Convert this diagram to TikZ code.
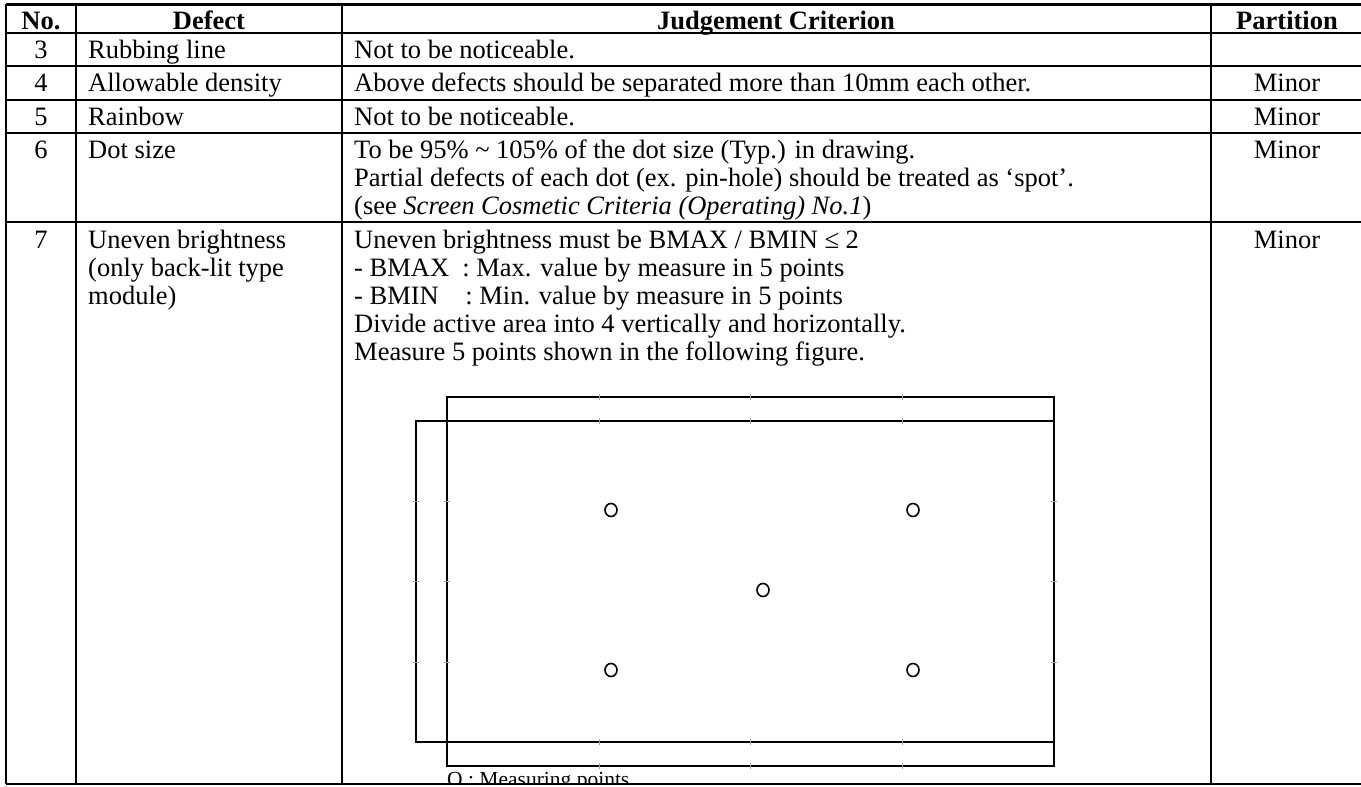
\documentclass[tikz,border=0pt]{standalone}
\usepackage{fontspec}
\setmainfont{Liberation Serif}
\begin{document}
\begin{tikzpicture}[x=1pt,y=-1pt,
    txt/.style={anchor=base west,inner sep=0pt,font=\fontsize{26.5}{27}\selectfont},
    num/.style={anchor=base,inner sep=0pt,font=\fontsize{26.5}{27}\selectfont},
    head/.style={anchor=base,inner sep=0pt,font=\fontsize{26.5}{27}\selectfont\bfseries},
    note/.style={anchor=base west,inner sep=0pt,font=\fontsize{21.5}{22}\selectfont},
    rule/.style={line width=2pt},
    tick/.style={line width=1pt,gray!70},
    mpt/.style={line width=1.6pt}]
  \useasboundingbox (0,0) rectangle (1361,787);
  \fill[white] (0,0) rectangle (1361,787);
  % table
  \draw[line width=3pt] (6,4) -- (1361,4);
  \foreach \ry in {33,66,100,133,222,784}
    \draw[rule] (6,\ry) -- (1361,\ry);
  \foreach \cx in {6,76,342,1211}
    \draw[rule] (\cx,4) -- (\cx,784);
  % header
  \node[head] (hno) at (41,29) {No.};
  \node[head] (hdef) at (209,29) {Defect};
  \node[head] (hcrit) at (776,29) {Judgement Criterion};
  \node[head] (hpart) at (1287,29) {Partition};
  % row 3
  \node[num] (n3) at (41,58) {3};
  \node[txt] (d3) at (88,58) {Rubbing line};
  \node[txt] (c3) at (354,58) {Not to be noticeable.};
  % row 4
  \node[num] (n4) at (41,91) {4};
  \node[txt] (d4) at (88,91) {Allowable density};
  \node[txt] (c4) at (354,91) {Above defects should be separated more than 10mm each other.};
  \node[num] (p4) at (1287,91) {Minor};
  % row 5
  \node[num] (n5) at (41,125) {5};
  \node[txt] (d5) at (88,125) {Rainbow};
  \node[txt] (c5) at (354,125) {Not to be noticeable.};
  \node[num] (p5) at (1287,125) {Minor};
  % row 6
  \node[num] (n6) at (41,158) {6};
  \node[txt] (d6) at (88,158) {Dot size};
  \node[txt] (c6a) at (354,158) {To be 95\% \textasciitilde{} 105\% of the dot size (Typ.) in drawing.};
  \node[txt] (c6b) at (354,186) {Partial defects of each dot (ex. pin-hole) should be treated as ‘spot’.};
  \node[txt] (c6c) at (354,214) {(see \textit{Screen Cosmetic Criteria (Operating) No.1})};
  \node[num] (p6) at (1287,158) {Minor};
  % row 7
  \node[num] (n7) at (41,248) {7};
  \node[txt] (d7a) at (88,248) {Uneven brightness};
  \node[txt] (d7b) at (88,276) {(only back-lit type};
  \node[txt] (d7c) at (88,304) {module)};
  \node[txt] (c7a) at (354,248) {Uneven brightness must be BMAX / BMIN ≤ 2};
  \node[txt] (c7b) at (354,276) {- BMAX\ \ : Max. value by measure in 5 points};
  \node[txt] (c7c) at (354,304) {- BMIN\ \ \ \ : Min. value by measure in 5 points};
  \node[txt] (c7d) at (354,332) {Divide active area into 4 vertically and horizontally.};
  \node[txt] (c7e) at (354,360) {Measure 5 points shown in the following figure.};
  \node[num] (p7) at (1287,248) {Minor};
  % figure: module outline
  \draw[rule] (447,397) rectangle (1054,766);
  \draw[rule] (416,421) rectangle (1054,742);
  \foreach \tx in {599,750,902} {
    \draw[tick] (\tx,394) -- (\tx,400);
    \draw[tick] (\tx,418) -- (\tx,424);
    \draw[tick] (\tx,739) -- (\tx,745);
    \draw[tick] (\tx,763) -- (\tx,769);
  }
  \foreach \ty in {501,581,662} {
    \draw[tick] (413,\ty) -- (419,\ty);
    \draw[tick] (444,\ty) -- (450,\ty);
    \draw[tick] (1051,\ty) -- (1057,\ty);
  }
  % measuring points
  \foreach \px/\py in {611/510,913/510,763/590,611/670,913/670}
    \draw[mpt] (\px,\py) ellipse (6 and 6.5);
  \begin{scope}
    \clip (0,0) rectangle (1361,783);
    \node[note] (cap) at (447,786) {O : Measuring points};
  \end{scope}
\end{tikzpicture}
\end{document}
